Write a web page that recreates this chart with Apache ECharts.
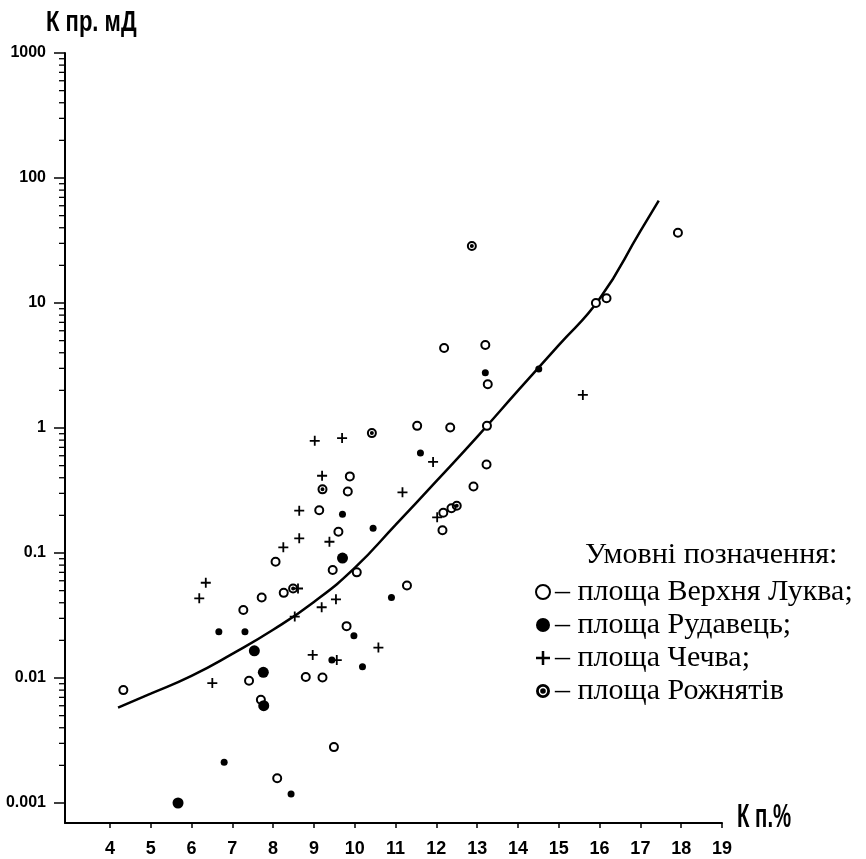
<!DOCTYPE html>
<html><head><meta charset="utf-8">
<script src="https://cdn.jsdelivr.net/npm/echarts@6/dist/echarts.min.js"></script>
<style>html,body{margin:0;padding:0;background:#fff}#c{width:866px;height:859px}</style>
</head><body><div id="c"></div>
<script>
// ---- axis ticks ----
const xTickValues = [4,5,6,7,8,9,10,11,12,13,14,15,16,17,18,19];
const yTickValues = [-3,-2,-1,0,1,2,3];            // log10 of permeability
const yTickLabels = ['0.001','0.01','0.1','1','10','100','1000'];

// ---- trend curve (Kп %, Kпр мД) ----
const curveX = [4.2, 5, 6, 7, 8, 9, 10, 11, 12, 13, 14, 15, 16, 17, 17.45];
const curveK = [0.0058, 0.0075, 0.0104, 0.0156, 0.0243, 0.0406, 0.076, 0.168, 0.376, 0.85, 1.99, 4.6, 10.8, 37.6, 66];

// ---- площа Верхня Луква (open circles) ----
const lukvaX = [4.33, 8.06, 9.60, 9.46, 7.72, 8.26, 7.27, 7.41, 8.80, 9.21, 7.70, 9.49, 8.10, 9.88, 9.83, 9.13, 10.05, 11.28, 9.80, 12.19, 13.20, 13.26, 11.53, 12.34, 13.24, 13.23, 12.91, 12.37, 12.17, 12.15, 17.92, 15.91, 16.17];
const lukvaK = [0.0080, 0.085, 0.148, 0.073, 0.044, 0.048, 0.035, 0.0095, 0.0102, 0.0101, 0.0067, 0.0028, 0.00158, 0.41, 0.31, 0.22, 0.070, 0.055, 0.026, 4.36, 4.61, 2.24, 1.04, 1.01, 1.04, 0.51, 0.34, 0.228, 0.21, 0.152, 36.5, 10.0, 10.9];

// ---- площа Рудавець (filled dots, large and small) ----
const rudLargeX = [7.54, 7.76, 7.77, 5.67, 9.70];
const rudLargeK = [0.0165, 0.0111, 0.0060, 0.0010, 0.091];
const rudSmallX = [6.67, 7.31, 6.80, 8.44, 10.45, 9.70, 10.90, 9.98, 10.19, 9.44, 13.20, 14.51, 11.61];
const rudSmallK = [0.0234, 0.0234, 0.00212, 0.00118, 0.158, 0.204, 0.044, 0.0218, 0.0123, 0.0139, 2.77, 2.97, 0.63];

// ---- площа Чечва (crosses) ----
const chechvaX = [6.35, 6.19, 8.25, 8.64, 9.38, 6.51, 8.53, 9.19, 9.54, 8.97, 9.56, 9.02, 9.69, 9.20, 11.17, 8.64, 10.58, 11.92, 12.02, 15.59, 8.61];
const chechvaK = [0.0578, 0.0434, 0.111, 0.131, 0.123, 0.0091, 0.031, 0.0368, 0.0426, 0.0153, 0.0139, 0.79, 0.83, 0.415, 0.306, 0.218, 0.0175, 0.535, 0.193, 1.84, 0.052];

// ---- площа Рожнятів (circle with dot) ----
const rozhX = [10.42, 9.21, 8.49, 12.50, 12.87];
const rozhK = [0.91, 0.323, 0.052, 0.239, 28.6];

const seriesNames = ['площа Верхня Луква', 'площа Рудавець', 'площа Чечва', 'площа Рожнятів'];
const legendTitle = 'Умовні позначення:';
const yTitle = 'К пр. мД';
const xTitle = 'К п.%';

// ---------------------------------------------------------------
const X_MIN = 2.9, X_MAX = 19, Y_MIN = -3.16, Y_MAX = 3;
const pts = (xs, ks) => xs.map((x, i) => [x, Math.log10(ks[i])]);
const minorTicks = [];
for (let n = -3; n < 3; n++) for (let k = 2; k <= 9; k++) minorTicks.push([X_MIN, n + Math.log10(k)]);

const sans = '"Liberation Sans", Arial, sans-serif';
const serif = '"Liberation Serif", "DejaVu Serif", serif';
const PLUS = 'path://M4.1,0H5.9V4.1H10V5.9H5.9V10H4.1V5.9H0V4.1H4.1Z';
const RING_DOT = 'path://M5,0A5,5 0 1 1 5,10A5,5 0 1 1 5,0Z M5,2A3,3 0 1 0 5,8A3,3 0 1 0 5,2Z M5,3A2,2 0 1 1 5,7A2,2 0 1 1 5,3Z';

const chart = echarts.init(document.getElementById('c'), null, {renderer: 'canvas'});
const axisLineStyle = {color: '#000', width: 2};
const solid = {color: '#000', opacity: 1};

chart.setOption({
  backgroundColor: '#fff',
  animation: false,
  title: {
    text: legendTitle, left: 585, top: 540, padding: 0,
    textStyle: {fontFamily: serif, fontSize: 30, fontWeight: 'normal', color: '#000'}
  },
  legend: {
    data: seriesNames,
    orient: 'vertical', left: 535, top: 577, padding: 0,
    itemWidth: 14, itemHeight: 14, itemGap: 3,
    selectedMode: false,
    formatter: name => '– ' + name + (name === seriesNames[3] ? '' : ';'),
    textStyle: {fontFamily: serif, fontSize: 30, color: '#000'}
  },
  grid: {left: 65, right: 144, top: 53, bottom: 36, containLabel: false},
  xAxis: {
    type: 'value', min: X_MIN, max: X_MAX,
    axisLine: {onZero: false, lineStyle: axisLineStyle},
    axisTick: {show: true, customValues: xTickValues, length: 5, lineStyle: {color: '#000', width: 1.5}},
    axisLabel: {customValues: xTickValues, margin: 17, fontFamily: sans, fontWeight: 'bold', fontSize: 18, color: '#000'},
    splitLine: {show: false}
  },
  yAxis: {
    type: 'value', min: Y_MIN, max: Y_MAX,
    axisLine: {show: true, onZero: false, lineStyle: axisLineStyle},
    axisTick: {show: true, customValues: yTickValues, length: 11, lineStyle: {color: '#000', width: 1.5}},
    axisLabel: {customValues: yTickValues, margin: 19, fontFamily: sans, fontWeight: 'bold', fontSize: 16, color: '#000',
      formatter: v => yTickLabels[Math.round(v) + 3]},
    splitLine: {show: false}
  },
  graphic: [
    {type: 'text', x: 46, y: 23, scaleX: 0.76, style: {text: yTitle, fontFamily: sans, fontWeight: 'bold', fontSize: 29, fill: '#000', verticalAlign: 'middle', align: 'left'}},
    {type: 'text', x: 737, y: 818, scaleX: 0.6, style: {text: xTitle, fontFamily: sans, fontWeight: 'bold', fontSize: 34, fill: '#000', verticalAlign: 'middle', align: 'left'}}
  ],
  series: [
    {type: 'custom', silent: true, clip: false, data: minorTicks,
      renderItem: (params, api) => {
        const p = api.coord([api.value(0), api.value(1)]);
        return {type: 'line', shape: {x1: p[0] - 6, y1: p[1], x2: p[0], y2: p[1]}, style: {stroke: '#000', lineWidth: 1.3}};
      }},
    {type: 'line', data: pts(curveX, curveK), smooth: 0.5, symbol: 'none', silent: true,
      lineStyle: {color: '#000', width: 2.5}, z: 2},
    {type: 'scatter', name: seriesNames[0], data: pts(lukvaX, lukvaK), symbol: 'emptyCircle', symbolSize: 8,
      itemStyle: {color: '#000', borderColor: '#000', borderWidth: 2, opacity: 1}, z: 3},
    {type: 'scatter', name: seriesNames[1], data: pts(rudLargeX, rudLargeK), symbol: 'circle', symbolSize: 11,
      itemStyle: solid, z: 3},
    {type: 'scatter', name: seriesNames[1], data: pts(rudSmallX, rudSmallK), symbol: 'circle', symbolSize: 7,
      itemStyle: solid, z: 3},
    {type: 'scatter', name: seriesNames[2], data: pts(chechvaX, chechvaK), symbol: PLUS, symbolSize: 10,
      itemStyle: solid, z: 3},
    {type: 'scatter', name: seriesNames[3], data: pts(rozhX, rozhK), symbol: RING_DOT, symbolSize: 10,
      itemStyle: solid, z: 3}
  ]
});
</script>
</body></html>
